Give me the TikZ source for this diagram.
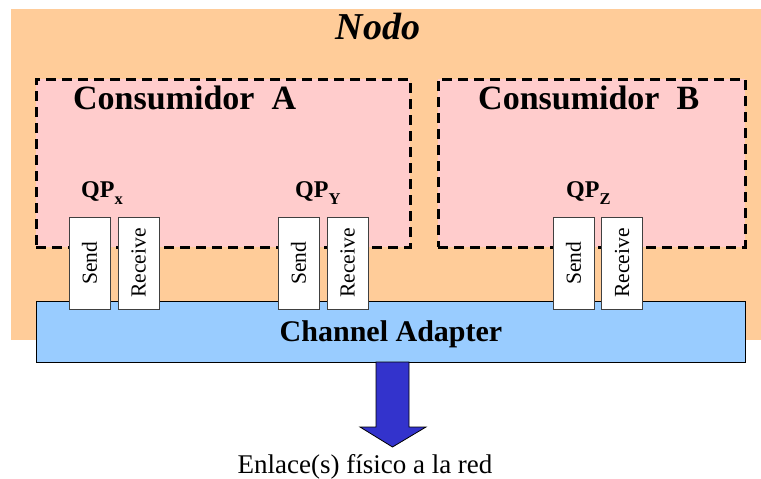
\documentclass[tikz,border=0pt]{standalone}
\usepackage{fontspec}
\setmainfont{Liberation Serif}
\definecolor{peach}{HTML}{FFCC99}
\definecolor{rosebg}{HTML}{FFCCCC}
\definecolor{adapterblue}{HTML}{99CCFF}
\definecolor{linkblue}{HTML}{3333CC}
\tikzset{
  hostbox/.style={fill=peach, inner sep=0pt, outer sep=0pt},
  consumerbox/.style={draw=black, fill=rosebg, line width=3pt,
    dash pattern=on 10pt off 6pt, inner sep=0pt, outer sep=0pt},
  queuebox/.style={draw=black!75, fill=white, line width=0.8pt, rotate=90,
    minimum width=92pt, minimum height=41pt, inner sep=0pt,
    font=\fontsize{21.5}{22}\selectfont},
  adapterbox/.style={draw=black, fill=adapterblue, line width=0.8pt,
    inner sep=0pt, outer sep=0pt},
  titlelbl/.style={font=\fontsize{34}{36}\selectfont\bfseries, inner sep=0pt, anchor=base west},
  qplbl/.style={font=\fontsize{24}{25}\selectfont\bfseries, inner sep=0pt, anchor=base west},
  linkarrow/.style={draw=black, fill=linkblue, line width=0.8pt, line join=miter}
}
\newcommand{\qpsub}[1]{\raisebox{-7pt}{\fontsize{16.5}{17}\selectfont #1}}
\begin{document}
\begin{tikzpicture}[x=1pt,y=-1pt]
\useasboundingbox (0,0) rectangle (761,479);

% host node background and its title
\node[hostbox, minimum width=750pt, minimum height=331pt] (host) at (386,174.5) {};
\node[font=\fontsize{38}{40}\selectfont\bfseries\itshape, inner sep=0pt, anchor=base] (hostlbl) at (378,39) {Nodo};

% consumers
\node[consumerbox, minimum width=374pt, minimum height=168pt] (consA) at (223,163) {};
\node[consumerbox, minimum width=307pt, minimum height=168pt] (consB) at (591.5,163) {};
\node[titlelbl] (consAlbl) at (73,109) {Consumidor\ \ A};
\node[titlelbl] (consBlbl) at (478,109) {Consumidor\ \ B};

% channel adapter
\node[adapterbox, minimum width=709pt, minimum height=61pt] (ca) at (390.5,331.5) {};
\node[font=\fontsize{30}{32}\selectfont\bfseries, inner sep=0pt, anchor=base] (calbl) at (391,341) {Channel Adapter};

% queue pairs
\node[qplbl] (qpxlbl) at (81,197) {QP\qpsub{x}};
\node[qplbl] (qpylbl) at (295,197) {QP\qpsub{Y}};
\node[qplbl] (qpzlbl) at (566,197) {QP\qpsub{Z}};

\node[queuebox] (sendx) at (89.5,263) {Send};
\node[queuebox] (recvx) at (138.5,263) {Receive};
\node[queuebox] (sendy) at (298.5,263) {Send};
\node[queuebox] (recvy) at (347.5,263) {Receive};
\node[queuebox] (sendz) at (573.5,263) {Send};
\node[queuebox] (recvz) at (622,263) {Receive};

% physical link arrow
\draw[linkarrow] (376,362) -- (376,427) -- (360,427) -- (392.5,447)
  -- (426,427) -- (409,427) -- (409,362) -- cycle;
\node[font=\fontsize{27}{29}\selectfont, inner sep=0pt, anchor=base] (linklbl) at (365,473) {Enlace(s) físico a la red};
\end{tikzpicture}
\end{document}
